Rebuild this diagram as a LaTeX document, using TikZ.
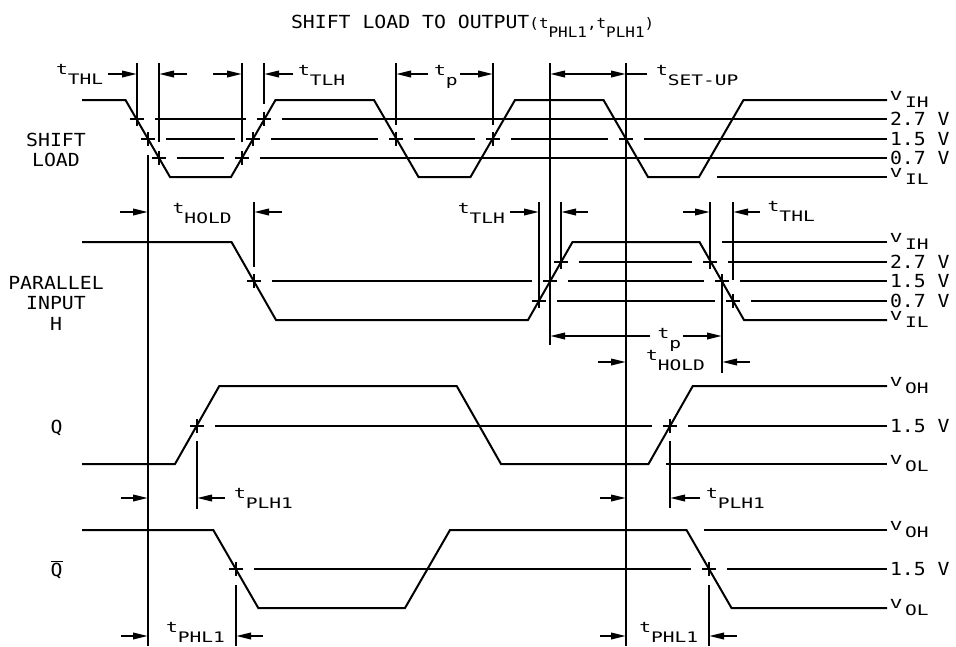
\documentclass[tikz,border=0pt]{standalone}
\usepackage{fontspec}
\usetikzlibrary{arrows.meta}
\newfontfamily\mf[FakeStretch=1.1]{DejaVu Sans Mono}
\newfontfamily\subfnt[FakeStretch=1.35]{DejaVu Sans Mono}
\newfontfamily\vfnt[FakeStretch=1.6]{DejaVu Sans Mono}
\newcommand\mtxt{\mf\fontsize{18}{20.5}\selectfont}
\newcommand\stxt{\subfnt\fontsize{14.5}{16}\selectfont}
\newcommand\ttxt{\mf\fontsize{14.5}{16}\selectfont}
\newcommand\tsub[1]{t\raisebox{-10pt}{#1}}
\newcommand\vsub[1]{{\vfnt\fontsize{12.5}{13}\selectfont V}\kern3pt\raisebox{-6.6pt}{\stxt #1}}
\begin{document}
\begin{tikzpicture}[x=1pt,y=-1pt,line width=2pt,
  dim/.style={-{Triangle[length=15pt,width=6.5pt]}},
  dimb/.style={{Triangle[length=15pt,width=6.5pt]}-{Triangle[length=15pt,width=6.5pt]}},
  lbl/.style={inner sep=0pt,font=\mtxt},
  rlbl/.style={inner sep=0pt,font=\mtxt,anchor=base west},
  tlbl/.style={inner sep=0pt,font=\stxt,anchor=base west}]
\path[use as bounding box] (0,0) rectangle (956,646);

% title
\node[anchor=base west,inner sep=0pt] (title) at (290,28) {\mtxt SHIFT LOAD TO OUTPUT\ttxt(t\raisebox{-9pt}{PHL1},t\raisebox{-9pt}{PLH1})};

% row labels
\node[lbl,align=center] (shiftload) at (56,150) {SHIFT\\LOAD};
\node[lbl,align=center] (parinput) at (56,303.3) {PARALLEL\\INPUT\\H};
\node[lbl,anchor=base] (qlab) at (56.7,433.3) {Q};
\node[lbl,anchor=base] (qbarlab) at (56.7,576) {$\overline{\hbox{\mtxt Q}}$};

% waveforms
\draw (82,100) -- (125.5,100) -- (170,177) -- (231,177) -- (275.5,100) -- (374,100) -- (418.5,177) -- (470.5,177) -- (515,100) -- (603.5,100) -- (648,177) -- (699,177) -- (743.5,100) -- (887,100);
\draw (82,242) -- (231.5,242) -- (276,320) -- (528,320) -- (572.5,242) -- (699.5,242) -- (744,320) -- (887,320);
\draw (82,464) -- (175,464) -- (219.3,386) -- (456.7,386) -- (501,464) -- (648.5,464) -- (692.8,386) -- (887,386);
\draw (82,530) -- (213.3,530) -- (258.3,608) -- (405,608) -- (450,530) -- (686.5,530) -- (731.5,608) -- (887,608);

% reference lines: shift load
\draw (155,119) -- (246,119) (282,119) -- (887,119);
\draw (166,139) -- (235,139) (271,139) -- (378,139) (414,139) -- (475,139) (511,139) -- (608,139) (644,139) -- (887,139);
\draw (177,158) -- (224,158) (260,158) -- (887,158);
\draw (717,177) -- (887,177);
% parallel input
\draw (579,262) -- (692,262) (728,262) -- (887,262);
\draw (272,281) -- (532,281) (568,281) -- (704,281) (740,281) -- (887,281);
\draw (557,301) -- (715,301) (751,301) -- (887,301);
\draw (722,242) -- (887,242);
% Q
\draw (215,426) -- (652,426) (688,426) -- (887,426);
\draw (666,464) -- (887,464);
% Qbar
\draw (254,569) -- (691,569) (727,569) -- (887,569);
\draw (704,530) -- (887,530);

% crossing marks
\foreach \x/\y in {137/119,148/139,159/158,242/158,253/139,264/119,396/139,493/139,626/139,
  254/281,539/301,550/281,561/262,710/262,722/281,733/301,
  197/426,670/426,236/569,709/569}
  \draw (\x-7,\y) -- (\x+7,\y) (\x,\y-7) -- (\x,\y+7);

% extension lines
\draw (137,63) -- (137,112) (159,63) -- (159,142) (242,63) -- (242,142) (264,63) -- (264,104)
      (396,63) -- (396,125) (493,63) -- (493,125) (550,63) -- (550,345) (626,63) -- (626,646)
      (148,155) -- (148,646);
\draw (254,202) -- (254,267) (539,202) -- (539,294) (561,202) -- (561,255)
      (710,202) -- (710,255) (733,202) -- (733,280) (722,288) -- (722,373);
\draw (197,441) -- (197,509) (670,441) -- (670,508);
\draw (236,585) -- (236,646) (709,585) -- (709,646);

% dimension arrows: shift load
\draw[dim] (108,74) -- (137,74);
\draw[dim] (187,74) -- (159,74);
\draw[dim] (213,74) -- (242,74);
\draw[dim] (293,74) -- (264,74);
\draw[dim] (428,74) -- (396,74);
\draw[dim] (460,74) -- (493,74);
\draw[dimb] (550,74) -- (626,74);
\draw (626,74) -- (647,74);
% parallel input
\draw[dim] (120,212) -- (148,212);
\draw[dim] (282,212) -- (254,212);
\draw[dim] (510,212) -- (539,212);
\draw[dim] (588,212) -- (561,212);
\draw[dim] (683,212) -- (710,212);
\draw[dim] (760,212) -- (733,212);
\draw[dim] (650,336) -- (550,336);
\draw[dim] (683,336) -- (722,336);
\draw[dim] (598,362) -- (626,362);
\draw[dim] (750,362) -- (722,362);
% Q
\draw[dim] (121,498) -- (148,498);
\draw[dim] (225,498) -- (197,498);
\draw[dim] (600,498) -- (626,498);
\draw[dim] (700,498) -- (670,498);
% Qbar
\draw[dim] (121,636) -- (148,636);
\draw[dim] (263,636) -- (236,636);
\draw[dim] (600,636) -- (626,636);
\draw[dim] (737,636) -- (709,636);

% dimension labels
\node[tlbl] (tthl1) at (55,74) {\tsub{THL}};
\node[tlbl] (ttlh1) at (297,75) {\tsub{TLH}};
\node[tlbl] (tp1) at (433,75) {\tsub{p}};
\node[tlbl] (tsetup) at (655,75) {\tsub{SET-UP}};
\node[tlbl] (thold1) at (171.7,213.3) {\tsub{HOLD}};
\node[tlbl,anchor=base east] (ttlh2) at (506,213.3) {\tsub{TLH}};
\node[tlbl] (tthl2) at (766.7,211.7) {\tsub{THL}};
\node[tlbl] (tp2) at (656.7,338) {\tsub{p}};
\node[tlbl] (thold2) at (645,360) {\tsub{HOLD}};
\node[tlbl] (tplh1) at (233,498.3) {\tsub{PLH1}};
\node[tlbl] (tplh2) at (705,498.3) {\tsub{PLH1}};
\node[tlbl] (tphl1) at (165,632.5) {\tsub{PHL1}};
\node[tlbl] (tphl2) at (638.3,632.5) {\tsub{PHL1}};

% level labels
\node[rlbl] (slvih) at (889,100.7) {\vsub{IH}};
\node[rlbl] (sl27) at (889,125.5) {2.7 V};
\node[rlbl] (sl15) at (889,145.5) {1.5 V};
\node[rlbl] (sl07) at (889,164.5) {0.7 V};
\node[rlbl] (slvil) at (889,177.7) {\vsub{IL}};
\node[rlbl] (pivih) at (889,242.7) {\vsub{IH}};
\node[rlbl] (pi27) at (889,268.5) {2.7 V};
\node[rlbl] (pi15) at (889,287.5) {1.5 V};
\node[rlbl] (pi07) at (889,307.5) {0.7 V};
\node[rlbl] (pivil) at (889,320.7) {\vsub{IL}};
\node[rlbl] (qvoh) at (889,386.7) {\vsub{OH}};
\node[rlbl] (q15) at (889,432.5) {1.5 V};
\node[rlbl] (qvol) at (889,464.7) {\vsub{OL}};
\node[rlbl] (qbvoh) at (889,530.7) {\vsub{OH}};
\node[rlbl] (qb15) at (889,575.5) {1.5 V};
\node[rlbl] (qbvol) at (889,608.7) {\vsub{OL}};
\end{tikzpicture}
\end{document}
